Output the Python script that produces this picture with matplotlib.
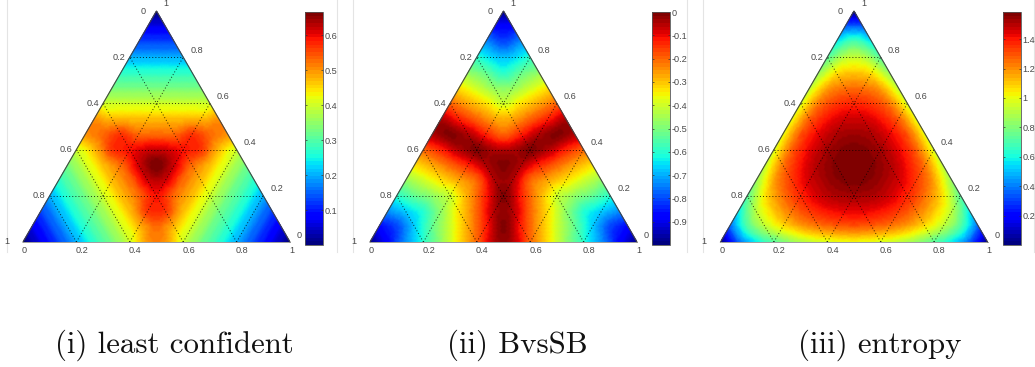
import matplotlib
matplotlib.use('Agg')
import matplotlib.pyplot as plt
import matplotlib.tri as mtri
import numpy as np

W, H = 1035, 367

# values per row of the triangular grid, apex row first
least_confident = [
    [0.0],
    [.067, .067],
    [.13, .13, .13],
    [.20, .20, .20, .20],
    [.27, .27, .27, .27, .27],
    [.33, .33, .33, .33, .33, .33],
    [.40, .40, .40, .40, .40, .40, .40],
    [.50, .47, .47, .47, .47, .47, .47, .50],
    [.50, .53, .565, .53, .53, .53, .565, .53, .50],
    [.40, .47, .565, .59, .615, .615, .59, .565, .47, .40],
    [.33, .40, .47, .53, .615, .667, .615, .53, .47, .40, .33],
    [.27, .33, .40, .47, .53, .615, .615, .53, .47, .40, .33, .27],
    [.20, .27, .33, .40, .47, .53, .59, .53, .47, .40, .33, .27, .20],
    [.13, .20, .27, .33, .40, .47, .565, .565, .47, .40, .33, .27, .20, .13],
    [.067, .13, .20, .27, .33, .40, .47, .53, .47, .40, .33, .27, .20, .13, .067],
    [0.0, .067, .13, .20, .27, .33, .40, .50, .50, .40, .33, .27, .20, .13, .067, 0.0],
]
bvssb = [
    [-1.0],
    [-.87, -.87],
    [-.73, -.80, -.73],
    [-.60, -.67, -.67, -.60],
    [-.47, -.53, -.60, -.53, -.47],
    [-.33, -.40, -.47, -.47, -.40, -.33],
    [-.20, -.27, -.33, -.40, -.33, -.27, -.20],
    [-.05, -.13, -.20, -.27, -.27, -.20, -.13, -.05],
    [-.05, -.01, -.05, -.13, -.20, -.13, -.05, -.01, -.05],
    [-.20, -.13, -.05, -.01, -.05, -.05, -.01, -.05, -.13, -.20],
    [-.33, -.27, -.20, -.13, -.05, -.01, -.05, -.13, -.20, -.27, -.33],
    [-.47, -.40, -.33, -.27, -.20, -.05, -.05, -.20, -.27, -.33, -.40, -.47],
    [-.60, -.53, -.47, -.40, -.27, -.13, -.01, -.13, -.27, -.40, -.47, -.53, -.60],
    [-.73, -.67, -.60, -.47, -.33, -.20, -.05, -.05, -.20, -.33, -.47, -.60, -.67, -.73],
    [-.87, -.80, -.67, -.53, -.40, -.27, -.13, -.01, -.13, -.27, -.40, -.53, -.67, -.80, -.87],
    [-1.0, -.87, -.73, -.60, -.47, -.33, -.20, -.05, -.05, -.20, -.33, -.47, -.60, -.73, -.87, -1.0],
]
entropy = [
    [0.0],
    [.35, .35],
    [.57, .70, .57],
    [.72, .91, .91, .72],
    [.84, 1.05, 1.10, 1.05, .84],
    [.92, 1.16, 1.24, 1.24, 1.16, .92],
    [.97, 1.23, 1.34, 1.37, 1.34, 1.23, .97],
    [1.0, 1.27, 1.40, 1.46, 1.46, 1.40, 1.27, 1.0],
    [1.0, 1.29, 1.43, 1.51, 1.53, 1.51, 1.43, 1.29, 1.0],
    [.97, 1.27, 1.43, 1.52, 1.57, 1.57, 1.52, 1.43, 1.27, .97],
    [.92, 1.23, 1.40, 1.51, 1.57, 1.585, 1.57, 1.51, 1.40, 1.23, .92],
    [.84, 1.16, 1.34, 1.46, 1.53, 1.57, 1.57, 1.53, 1.46, 1.34, 1.16, .84],
    [.72, 1.05, 1.24, 1.37, 1.46, 1.51, 1.52, 1.51, 1.46, 1.37, 1.24, 1.05, .72],
    [.57, .91, 1.10, 1.24, 1.34, 1.40, 1.43, 1.43, 1.40, 1.34, 1.24, 1.10, .91, .57],
    [.35, .70, .91, 1.05, 1.16, 1.23, 1.27, 1.29, 1.27, 1.23, 1.16, 1.05, .91, .70, .35],
    [0.0, .35, .57, .72, .84, .92, .97, 1.0, 1.0, .97, .92, .84, .72, .57, .35, 0.0],
]

grid_levels = [0.2, 0.4, 0.6, 0.8]
edge_levels = [0, 0.2, 0.4, 0.6, 0.8, 1]
edge_labels = ['0', '0.2', '0.4', '0.6', '0.8', '1']

ticks_lc = [0.1, 0.2, 0.3, 0.4, 0.5, 0.6]
ticks_lc_labels = ['0.1', '0.2', '0.3', '0.4', '0.5', '0.6']
ticks_bvs = [0, -0.1, -0.2, -0.3, -0.4, -0.5, -0.6, -0.7, -0.8, -0.9]
ticks_bvs_labels = ['0', '-0.1', '-0.2', '-0.3', '-0.4', '-0.5', '-0.6', '-0.7', '-0.8', '-0.9']
ticks_ent = [0.2, 0.4, 0.6, 0.8, 1, 1.2, 1.4]
ticks_ent_labels = ['0.2', '0.4', '0.6', '0.8', '1', '1.2', '1.4']

captions = ['(i) least confident', '(ii) BvsSB', '(iii) entropy']

plt.rcParams['font.family'] = ['Liberation Sans', 'DejaVu Sans']
TXT = '#4a4a4a'
DOTS = (0, (1, 2.2))


def px_axes(fig, left, top, right, bottom):
    return fig.add_axes([left / W, 1 - bottom / H, (right - left) / W, (bottom - top) / H])


def grid_mesh(rows):
    n = len(rows) - 1
    xs, ys, tris = [], [], []
    start = []
    for i, row in enumerate(rows):
        start.append(len(xs))
        for j in range(len(row)):
            xs.append((j + (n - i) / 2) / n)
            ys.append((n - i) / n)
    for i in range(n):
        for j in range(i + 1):
            a, b, c = start[i] + j, start[i + 1] + j, start[i + 1] + j + 1
            tris.append([a, b, c])
            if j < i:
                tris.append([a, c, a + 1])
    z = np.concatenate([np.array(r, dtype=float) for r in rows])
    return mtri.Triangulation(np.array(xs), np.array(ys), tris), z


def draw_panel(fig, rows, x0, vmin, vmax, ticks, tick_labels, frame, caption, caption_x):
    bg = px_axes(fig, frame[0], 0, frame[1], 252)
    bg.set_xticks([])
    bg.set_yticks([])
    bg.patch.set_alpha(0)
    for side in ['top', 'bottom']:
        bg.spines[side].set_visible(False)
    for side in ['left', 'right']:
        bg.spines[side].set_color('#e4e4e4')
        bg.spines[side].set_linewidth(0.8)

    # triangle axes: left corner x0, apex y=11, base y=242
    ax = px_axes(fig, x0, 11, x0 + 267, 242)
    ax.set_xlim(0, 1)
    ax.set_ylim(0, 1)
    ax.axis('off')

    tri, z = grid_mesh(rows)
    refiner = mtri.UniformTriRefiner(tri)
    smooth = mtri.CubicTriInterpolator(tri, z, kind='geom')
    fine, fine_z = refiner.refine_field(z, triinterpolator=smooth, subdiv=3)
    mesh = ax.tripcolor(fine, fine_z, shading='gouraud', cmap=plt.get_cmap('jet', 64),
                        vmin=vmin, vmax=vmax)

    for t in grid_levels:
        ax.plot([t / 2, 1 - t / 2], [t, t], color='k', lw=0.7, ls=DOTS, alpha=0.8)
        ax.plot([t, 0.5 + t / 2], [0, 1 - t], color='k', lw=0.7, ls=DOTS, alpha=0.8)
        ax.plot([t, t / 2], [0, t], color='k', lw=0.7, ls=DOTS, alpha=0.8)
    ax.plot([0, 0.5, 1], [0, 1, 0], color='#444444', lw=0.8, clip_on=False)
    ax.plot([0, 1], [0, 0], color='#777777', lw=0.5, clip_on=False)

    for t, lab in zip(edge_levels, edge_labels):
        ax.annotate(lab, (t, 0), xytext=(-1, -4), textcoords='offset pixels', ha='left', va='top',
                    fontsize=6.6, color=TXT, annotation_clip=False)
        dx = -4 if 0 < t < 1 else (-11 if t == 0 else -14)
        ax.annotate(lab, (0.5 - t / 2, 1 - t), xytext=(dx, 0), textcoords='offset pixels',
                    ha='right', va='center', fontsize=6.6, color=TXT, annotation_clip=False)
        ax.annotate(lab, (0.5 + (1 - t) / 2, t), xytext=(7, 7),
                    textcoords='offset pixels', ha='left', va='center', fontsize=6.6, color=TXT,
                    annotation_clip=False)

    cax = px_axes(fig, x0 + 282, 12, x0 + 300, 245)
    cb = fig.colorbar(mesh, cax=cax, ticks=ticks)
    cb.set_ticklabels(tick_labels)
    cax.tick_params(direction='in', length=1.5, width=0.5, pad=1.5, labelsize=6.6,
                    labelcolor=TXT, color='#333333', left=True)
    cb.outline.set_edgecolor('#555555')
    cb.outline.set_linewidth(0.6)

    fig.text(caption_x / W, 1 - 345 / H, caption, family='cmr10', fontsize=22.2, color='#111111',
             ha='left', va='center')


fig = plt.figure(figsize=(W / 100, H / 100), dpi=100)
draw_panel(fig, least_confident, 23, 0, 0.667, ticks_lc, ticks_lc_labels, (7, 337), captions[0], 55)
draw_panel(fig, bvssb, 370, -1, 0, ticks_bvs, ticks_bvs_labels, (353, 687), captions[1], 447)
draw_panel(fig, entropy, 720.5, 0, 1.585, ticks_ent, ticks_ent_labels, (703, 1034), captions[2], 798)
fig.savefig('out.png', dpi=100)
